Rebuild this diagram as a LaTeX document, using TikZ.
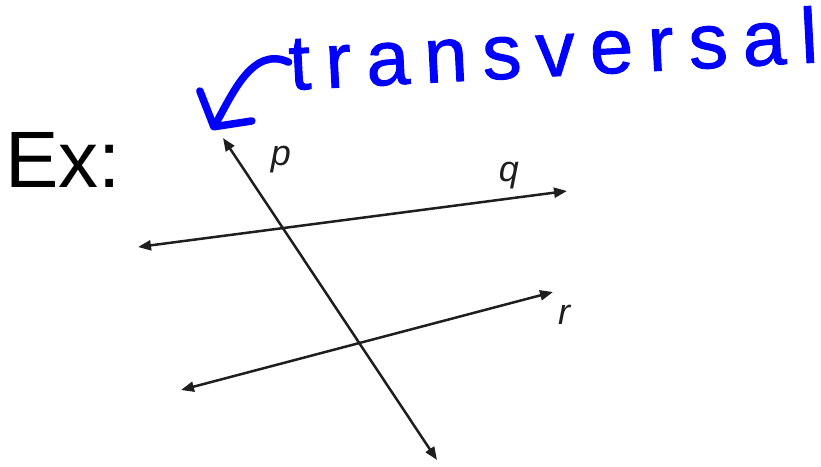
\documentclass[tikz,border=0pt]{standalone}
\usepackage{fontspec}
\setmainfont{Liberation Sans}
\newfontfamily\penfont[LetterSpace=19,FakeBold=1.2]{Liberation Sans}
\usetikzlibrary{arrows.meta}
\definecolor{ink}{HTML}{1E1E1E}
\definecolor{pen}{HTML}{0000FF}

\begin{document}
\begin{tikzpicture}[x=1pt,y=-1pt,
  line/.style={<->,line width=2.5pt,draw=ink,>={Triangle[length=13pt,width=10pt]}},
  lab/.style={font=\fontsize{36}{36}\selectfont\itshape,text=ink,inner sep=0pt},
  penline/.style={draw=pen,line width=7.5pt,line cap=round,line join=round}]
\useasboundingbox (0,0) rectangle (821,466);

% example label
\node[anchor=base west,inner sep=0pt,font=\fontsize{80}{80}\selectfont] (ex) at (5,187) {Ex:};

% transversal p
\coordinate (ptop) at (223,138);
\coordinate (pbot) at (437,460);
\draw[line] (ptop)--(pbot);
\node[lab] (p) at (281,160) {p};

% parallel lines q and r
\coordinate (qleft) at (138,247);
\coordinate (qright) at (567,191);
\draw[line] (qleft)--(qright);
\node[lab] (q) at (509,176) {q};
\coordinate (rleft) at (181,390);
\coordinate (rright) at (553,292);
\draw[line] (rleft)--(rright);
\node[lab] (r) at (564,315) {r};

% handwritten note
\node[anchor=base west,inner sep=0pt,rotate=3,text=pen,
  font=\penfont\fontsize{78}{78}\selectfont] (word) at (290,90) {transversal};
\coordinate (tip) at (212,130);
\draw[penline,-{Straight Barb[round,length=24pt,width=60pt]}]
  (word.west) to[out=155,in=60] (tip);

\end{tikzpicture}
\end{document}
